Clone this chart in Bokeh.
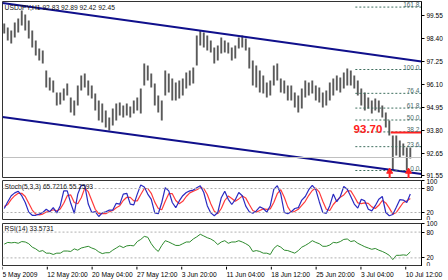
from bokeh.plotting import figure
from bokeh.layouts import column
from bokeh.models import Range1d, FixedTicker, PrintfTickFormatter, Label, Span
from bokeh.core.properties import value
from bokeh.embed import file_html
from bokeh.resources import INLINE

FONT = "Liberation Sans"

symbol = "USDJPY,H1"
last_ohlc = [92.83, 92.89, 92.42, 92.45]
bars_per_sample = 10

highs = [99.15,98.95,98.80,99.20,99.40,99.80,99.60,99.30,98.80,98.30,
         97.90,97.80,96.80,96.45,96.30,95.70,95.70,95.90,96.15,95.45,
         95.30,96.05,96.55,96.65,96.30,96.05,95.65,95.30,95.15,94.80,
         94.45,94.90,95.15,95.20,95.05,95.15,95.00,95.30,95.45,95.90,
         97.15,97.05,96.65,96.15,95.55,95.30,96.80,96.65,96.40,96.20,
         96.30,96.40,96.70,96.80,96.95,98.55,98.80,98.70,98.55,98.30,
         97.95,98.05,98.45,98.30,98.20,97.95,98.05,98.45,98.55,98.40,
         97.95,97.30,97.05,96.80,96.55,96.20,96.30,97.05,97.15,96.40,
         96.30,96.05,96.05,95.70,95.55,95.90,96.30,96.20,96.30,96.05,
         95.95,95.70,95.80,96.20,96.40,96.55,96.45,96.70,96.90,96.80,
         96.55,96.30,95.90,95.70,95.45,95.30,95.40,95.30,95.05,94.70,
         94.30,93.55,93.55,93.30,93.15,92.95,92.95]
lows = [98.65,98.30,98.15,98.45,98.70,99.05,98.80,98.40,97.95,97.55,
        97.30,97.15,95.95,95.80,95.70,95.05,95.10,95.30,95.55,94.70,
        94.55,95.05,95.80,95.95,95.55,95.40,94.80,94.30,94.20,93.95,
        93.80,94.05,94.30,94.55,94.45,94.55,94.45,94.65,94.80,94.65,
        96.05,96.30,95.95,95.05,94.70,94.30,95.55,95.70,95.30,95.30,
        95.40,95.55,95.90,96.05,96.15,97.05,98.05,97.95,97.80,97.70,
        97.15,97.30,97.65,97.70,97.65,97.30,97.40,97.90,97.95,97.80,
        96.90,96.05,95.95,95.70,95.65,95.45,95.55,96.05,96.30,95.70,
        95.65,95.30,95.30,94.95,94.70,94.90,95.45,95.55,95.65,95.30,
        95.20,94.95,95.05,95.30,95.55,95.80,95.70,95.90,96.05,96.05,
        95.90,95.55,95.05,94.80,94.90,94.65,94.80,94.70,94.45,93.95,
        93.55,91.80,92.55,92.45,92.55,91.80,92.40]

stoch_main = [30,47,62,69,73,62,45,21,13,13,16,20,28,22,32,19,37,74,74,43,
              18,66,88,88,41,20,22,10,19,22,26,26,43,41,66,68,41,39,66,89,
              84,66,53,19,17,45,82,74,45,32,49,62,70,74,76,82,87,70,37,19,
              12,20,57,73,53,40,52,70,62,36,22,18,24,34,30,21,37,78,87,66,
              20,17,22,30,32,51,60,77,88,77,47,20,18,37,66,47,60,85,78,60,
              41,31,53,49,28,24,37,53,60,20,12,15,33,52,51,45,66]
stoch_signal = [35,40,53,62,68,68,60,43,26,16,14,16,21,23,27,24,29,43,62,64,
                45,42,57,81,72,50,28,17,17,17,22,25,32,37,50,58,58,49,49,65,
                80,80,68,46,30,27,48,67,67,50,42,48,60,69,73,77,82,80,65,42,
                23,17,30,50,61,55,48,54,61,56,40,25,21,25,29,28,29,45,67,77,
                58,34,20,23,28,38,48,63,75,81,71,48,28,25,40,50,58,64,74,74,
                60,44,42,44,43,34,30,38,50,44,31,16,20,33,45,49,55]
stoch_last = ["65.7216", "55.2593"]
rsi = [52,56,55,56,54,58,57,53,45,41,35,37,31,31,28,31,31,36,36,35,
       41,38,43,45,47,43,40,34,30,32,32,38,43,48,44,48,49,48,58,63,
       70,68,53,42,35,49,60,57,53,49,49,53,57,57,64,69,75,71,67,64,
       59,51,57,60,54,57,57,60,57,53,48,35,37,35,31,31,28,42,49,45,
       38,37,34,31,37,45,49,54,60,56,53,47,47,50,56,55,58,63,64,58,
       60,54,50,46,43,40,42,38,35,31,26,16,26,26,27,26,34]
rsi_last = "33.5731"

date_ticks = [0, 128, 256, 384, 512, 640, 768, 896, 1024, 1152]
date_labels = ["5 May 2009", "12 May 20:00", "20 May 04:00", "27 May 12:00",
               "3 Jun 20:00", "11 Jun 04:00", "18 Jun 12:00", "25 Jun 20:00",
               "3 Jul 04:00", "10 Jul 12:00"]
price_ticks = [91.55, 92.65, 93.80, 94.95, 96.10, 97.25, 98.40, 99.55]
osc_ticks = [0, 20, 80, 100]
osc_levels = [20, 80]

chan_x = [0, 1197]
chan_upper = [100.17, 97.25]
chan_lower = [94.48, 91.62]

fib_low, fib_high = 91.80, 96.85
fib_levels = [0.0, 23.6, 38.2, 50.0, 61.8, 76.4, 100.0, 161.8]
fib_start = 1008
target_price = 93.70
target_start = 1109
arrow_x = [1106, 1160]
arrow_price = [91.75, 91.75]

n = len(highs)
xs = [5 + bars_per_sample * i for i in range(n)]
XMAX = 1197
PX_PER_BAR = 419 / XMAX
xr = Range1d(0, XMAX)


def make(fh, top, yr, bottom=0):
    p = figure(frame_width=419, frame_height=fh, x_range=xr, y_range=yr,
               output_backend="svg", toolbar_location=None,
               y_axis_location="right", x_axis_location=None,
               min_border_left=2, min_border_right=27, min_border_top=top,
               min_border_bottom=bottom, background_fill_color="white",
               border_fill_color="white")
    p.xgrid.visible = False
    p.ygrid.visible = False
    p.outline_line_color = "#333333"
    p.outline_line_width = 1
    ax = p.yaxis[0]
    ax.major_tick_out = 3
    ax.major_tick_in = 0
    ax.minor_tick_out = 0
    ax.minor_tick_in = 0
    ax.axis_line_color = "#000000"
    ax.major_label_standoff = 2
    ax.major_label_text_font = FONT
    ax.major_label_text_font_size = "6.5px"
    ax.major_label_text_color = "#000000"
    return p


# ---------- main price panel ----------
p1 = make(177, 1, Range1d(91.40, 100.25))
p1.yaxis.ticker = FixedTicker(ticks=price_ticks)
p1.yaxis.formatter = PrintfTickFormatter(format="%.2f")

p1.add_layout(Span(location=last_ohlc[3], dimension="width",
                   line_color="#c0c0c0", line_width=1))
p1.segment(x0=xs, y0=lows, x1=xs, y1=highs, line_color="#5a5a5a",
           line_width=1.9)
p1.line(chan_x, chan_upper, line_color="#10108c", line_width=2)
p1.line(chan_x, chan_lower, line_color="#10108c", line_width=2)

fib_prices = [fib_low + lv / 100.0 * (fib_high - fib_low) for lv in fib_levels]
for lv, fp in zip(fib_levels, fib_prices):
    p1.line([fib_start, XMAX], [fp, fp], line_color="#3f6f5f", line_width=1,
            line_dash="2 2")
    p1.add_layout(Label(x=XMAX - 6, y=fp, text="%.1f" % lv, text_align="right",
                        text_baseline="bottom", text_font=FONT,
                        text_font_size="6.5px", text_color="#4a6a6a"))

p1.line([target_start, XMAX], [target_price, target_price], line_color="#ff2020",
        line_width=2)
p1.add_layout(Label(x=fib_start - 5, y=target_price, text="%.2f" % target_price,
                    text_align="left", text_baseline="bottom", text_font=FONT,
                    text_font_size="11.5px", text_font_style="bold",
                    text_color="#ff2020"))

p1.segment(x0=arrow_x, y0=arrow_price, x1=arrow_x, y1=[91.40] * len(arrow_x),
           line_color="#ff2020", line_width=2)
p1.scatter(arrow_x, arrow_price, marker="triangle", size=6, color="#ff2020")

p1.add_layout(Label(x=6, y=99.95, text=symbol + " " + " ".join("%.2f" % v for v in last_ohlc),
                    text_baseline="middle", text_font=FONT,
                    text_font_size="6.7px", text_color="#111111"))
p1.add_layout(Label(x=XMAX + 6, y=chan_upper[1], text="%.2f" % chan_upper[1],
                    text_baseline="middle", text_font=FONT, text_font_size="6.5px",
                    text_color="#000000", background_fill_color="white",
                    border_line_color="#ff0000", border_line_width=1.5))
p1.add_layout(Label(x=XMAX + 6, y=last_ohlc[3], text="%.2f" % last_ohlc[3],
                    text_baseline="middle", text_font=FONT, text_font_size="6.5px",
                    text_color="#ffffff", background_fill_color="#000000"))

# ---------- stochastic panel ----------
p2 = make(40, 2, Range1d(0, 100))
p2.yaxis.ticker = FixedTicker(ticks=osc_ticks)
for lv in osc_levels:
    p2.add_layout(Span(location=lv, dimension="width", line_color="#b0b0b0",
                       line_dash="2 2", line_width=1))
p2.line(xs, stoch_signal, line_color="#ff3b3b", line_width=1.2)
p2.line(xs, stoch_main, line_color="#2a2ac0", line_width=1.2)
p2.add_layout(Label(x=6, y=85, text="Stoch(5,3,3) " + " ".join(stoch_last),
                    text_baseline="middle", text_font=FONT,
                    text_font_size="6.7px", text_color="#111111"))

# ---------- RSI panel ----------
p3 = make(43, 3, Range1d(0, 100))
p3.yaxis.ticker = FixedTicker(ticks=osc_ticks)
for lv in osc_levels:
    p3.add_layout(Span(location=lv, dimension="width", line_color="#b0b0b0",
                       line_dash="2 2", line_width=1))
p3.line(xs, rsi, line_color="#2e8b2e", line_width=1)
p3.add_layout(Label(x=6, y=88, text="RSI(14) " + rsi_last,
                    text_baseline="middle", text_font=FONT,
                    text_font_size="6.7px", text_color="#111111"))

# ---------- time scale strip (labels start at their tick, MetaTrader style) ----------
p4 = figure(frame_width=446, frame_height=14,
            x_range=Range1d(0, 446 / PX_PER_BAR), y_range=Range1d(0, 14),
            output_backend="svg", toolbar_location=None,
            x_axis_location=None, y_axis_location=None,
            min_border_left=2, min_border_right=0, min_border_top=0,
            min_border_bottom=0, outline_line_color=None,
            background_fill_color="white", border_fill_color="white")
p4.xgrid.visible = False
p4.ygrid.visible = False
p4.segment(x0=date_ticks, y0=[14] * len(date_ticks), x1=date_ticks,
           y1=[11] * len(date_ticks), line_color="#000000", line_width=1)
p4.text(x=date_ticks, y=[6] * len(date_ticks), text=date_labels,
        text_align="left", text_baseline="middle", text_font=value(FONT),
        text_font_size="6.7px", text_color="#000000")

layout = column(p1, p2, p3, p4, spacing=0)
open("out.html", "w").write(file_html(layout, INLINE))
